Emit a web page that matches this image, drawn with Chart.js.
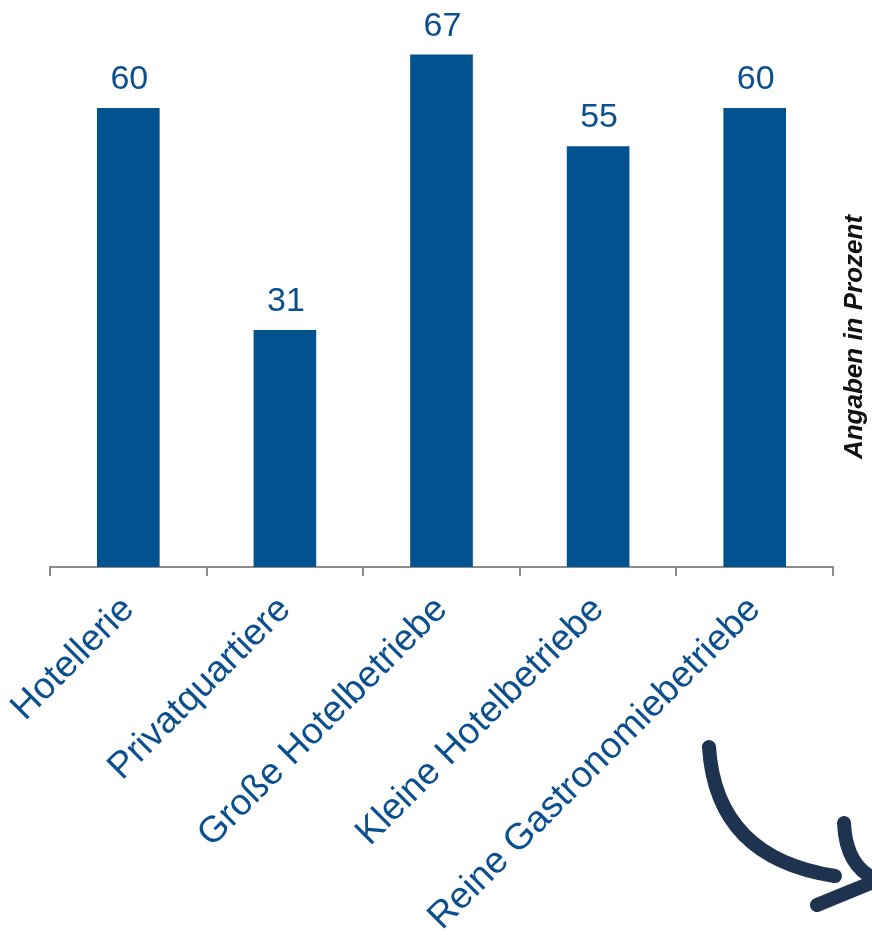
<!DOCTYPE html>
<html>
<head>
<meta charset="utf-8">
<script src="https://cdn.jsdelivr.net/npm/chart.js@4.4.1/dist/chart.umd.min.js"></script>
<style>
  html, body { margin: 0; padding: 0; background: #fff; }
  #wrap { width: 872px; height: 935px; }
</style>
</head>
<body>
<div id="wrap"><canvas id="shares"></canvas></div>
<script>
const categories = ['Hotellerie', 'Privatquartiere', 'Große Hotelbetriebe', 'Kleine Hotelbetriebe', 'Reine Gastronomiebetriebe'];
const shares = [60, 31, 67, 55, 60];
const unitLabel = 'Angaben in Prozent';

const blue = '#02528f';
const textBlue = '#0b4f8e';
const arrowColor = '#1d3350';

// values above the bars
const valueLabels = {
    id: 'valueLabels',
    afterDatasetsDraw(chart) {
        const ctx = chart.ctx;
        const meta = chart.getDatasetMeta(0);
        ctx.save();
        ctx.font = '34px "Liberation Sans", Arial, sans-serif';
        ctx.fillStyle = textBlue;
        ctx.textAlign = 'center';
        ctx.textBaseline = 'alphabetic';
        meta.data.forEach((bar, i) => {
            ctx.fillText(String(shares[i]), bar.x + 1, bar.y - 19);
        });
        ctx.restore();
    }
};

// vertical unit note on the right + the hand drawn arrow
const decorations = {
    id: 'decorations',
    afterDraw(chart) {
        const ctx = chart.ctx;
        ctx.save();
        ctx.translate(855, 337);
        ctx.rotate(-Math.PI / 2);
        ctx.font = 'italic bold 26px "Liberation Sans", Arial, sans-serif';
        ctx.fillStyle = '#111';
        ctx.textAlign = 'center';
        ctx.textBaseline = 'middle';
        ctx.fillText(unitLabel, 0, 0);
        ctx.restore();

        ctx.save();
        ctx.strokeStyle = arrowColor;
        ctx.lineWidth = 14;
        ctx.lineCap = 'round';
        ctx.beginPath();
        ctx.moveTo(709, 747);
        ctx.quadraticCurveTo(716, 858, 835, 876);
        ctx.stroke();
        ctx.beginPath();
        ctx.moveTo(844, 823);
        ctx.quadraticCurveTo(846, 868, 878, 880);
        ctx.stroke();
        ctx.beginPath();
        ctx.moveTo(817, 905);
        ctx.lineTo(878, 880);
        ctx.stroke();
        ctx.restore();
    }
};

new Chart(
    document.getElementById('shares'),
    {
        type: 'bar',
        data: {
            labels: categories,
            datasets: [
                {
                    label: 'Anteil',
                    data: shares,
                    backgroundColor: blue,
                    categoryPercentage: 1,
                    barPercentage: 0.4
                }
            ]
        },
        options: {
            responsive: true,
            maintainAspectRatio: false,
            animation: false,
            layout: { padding: { left: 50, right: 39, top: 1, bottom: 0 } },
            plugins: {
                legend: { display: false },
                tooltip: { enabled: false }
            },
            scales: {
                x: {
                    afterFit(scale) { scale.height = 368; },
                    grid: {
                        display: true,
                        drawOnChartArea: false,
                        drawTicks: true,
                        tickLength: 9,
                        color: '#8c8c8c',
                        lineWidth: 2
                    },
                    border: { display: true, color: '#8c8c8c', width: 2 },
                    ticks: {
                        minRotation: 45,
                        maxRotation: 45,
                        autoSkip: false,
                        padding: 12,
                        color: textBlue,
                        font: { family: '"Liberation Sans", Arial, sans-serif', size: 37 }
                    }
                },
                y: {
                    display: false,
                    min: 0,
                    max: 74
                }
            }
        },
        plugins: [valueLabels, decorations]
    }
);
</script>
</body>
</html>
